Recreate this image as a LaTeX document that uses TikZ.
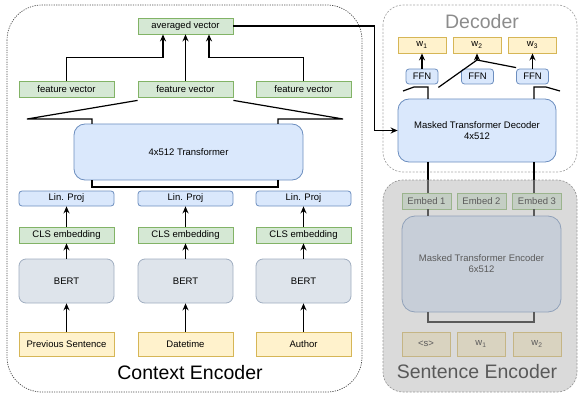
\documentclass[tikz,border=0pt]{standalone}
\usepackage{fontspec}
\setmainfont{Liberation Sans}
\usetikzlibrary{arrows.meta,calc}
\definecolor{gfill}{HTML}{D5E8D4}\definecolor{gline}{HTML}{82B366}
\definecolor{bfill}{HTML}{DAE8FC}\definecolor{bline}{HTML}{6C8EBF}
\definecolor{yfill}{HTML}{FFF2CC}\definecolor{yline}{HTML}{D6B656}
\definecolor{sfill}{HTML}{DEE4EB}\definecolor{sline}{HTML}{A0AEC0}
\definecolor{ovl}{RGB}{181,181,181}
\tikzset{
  box/.style={draw, line width=0.8pt, inner sep=0pt, align=center, font=\fontsize{9.5}{11}\selectfont},
  sz/.style 2 args={minimum width=#1pt, minimum height=#2pt},
  gbox/.style={box, fill=gfill, draw=gline},
  bbox/.style={box, fill=bfill, draw=bline, rounded corners=3pt},
  ybox/.style={box, fill=yfill, draw=yline},
  sbox/.style={box, fill=sfill, draw=sline, rounded corners=7pt},
  tbox/.style={box, fill=bfill, draw=bline, rounded corners=11pt},
  conn/.style={line width=1.2pt, black},
  arr/.style={conn, -{Stealth[length=7pt,width=6pt]}},
  title/.style={font=\fontsize{19.5}{22}\selectfont, inner sep=0pt}
}
\begin{document}
\begin{tikzpicture}[x=1pt,y=-1pt]
\useasboundingbox (0,0) rectangle (579,396);
% ---- frames
\draw[line width=0.7pt, draw=black!70, dash pattern=on 1.2pt off 1.2pt, rounded corners=35pt] (7,5) rectangle (362,392);
\draw[line width=0.7pt, draw=black!35, dash pattern=on 2pt off 1.5pt, rounded corners=20pt] (383,5) rectangle (577,172);
\node[title] (ctitle) at (190,373) {Context Encoder};
\node[title, text=black!45] (dtitle) at (482,22) {Decoder};

% ---- context encoder nodes
\node[gbox, sz={95}{16}] (avg) at (185.5,26) {averaged vector};
\foreach \i/\x in {1/66.5,2/185.5,3/303.5}{
  \node[gbox, sz={95}{16}] (fv\i) at (\x,89) {feature vector};
  \node[bbox, sz={95}{15}] (lp\i) at (\x,198.5) {Lin. Proj};
  \node[gbox, sz={95}{16}] (cls\i) at (\x,235) {CLS embedding};
  \node[sbox, sz={95}{44}] (bert\i) at (\x,281) {BERT};
}
\node[ybox, sz={95}{24}] (in1) at (66.5,344) {Previous Sentence};
\node[ybox, sz={95}{24}] (in2) at (185.5,344) {Datetime};
\node[ybox, sz={95}{24}] (in3) at (303.5,344) {Author};
\node[tbox, sz={229}{56}] (trans) at (188.5,152) {4x512 Transformer};

\foreach \i in {1,2,3}{
  \draw[arr] (in\i.north) -- (bert\i.south);
  \draw[arr] (bert\i.north) -- (cls\i.south);
  \draw[arr] (cls\i.north) -- (lp\i.south);
}
\draw[arr] (fv1.north) -- ++(0,-23) -| ([xshift=-22.5pt]avg.south);
\draw[arr] (fv2.north) -- (avg.south);
\draw[arr] (fv3.north) -- ++(0,-23) -| ([xshift=23.5pt]avg.south);
\coordinate (tl) at (27,119);
\coordinate (tr) at (343,119);
\draw[conn] ([yshift=-3pt]fv2.south west) -- (tl) -- (92,119) -- (92,124);
\draw[conn] ([yshift=-3pt]fv2.south east) -- (tr) -- (278,119) -- (278,124);
\draw[conn] (92,180) -- (92,187) -- (278,187) -- (278,180);

% ---- decoder
\node[gbox, sz={48}{16}, fill=yfill, draw=yline] (w1) at (422,45) {w\textsubscript{1}};
\node[gbox, sz={48}{16}, fill=yfill, draw=yline] (w2) at (477,45) {w\textsubscript{2}};
\node[gbox, sz={48}{16}, fill=yfill, draw=yline] (w3) at (532.5,45) {w\textsubscript{3}};
\node[bbox, sz={32}{15}] (ffn1) at (422,76.5) {FFN};
\node[bbox, sz={32}{15}] (ffn2) at (477.5,76.5) {FFN};
\node[bbox, sz={32}{15}] (ffn3) at (532.5,76.5) {FFN};
\node[tbox, sz={158}{63}] (dec) at (477,130.5) {Masked Transformer Decoder\\4x512};
\draw[arr] (ffn1.north) -- (w1.south);
\draw[arr] (ffn3.north) -- (w3.south);
\coordinate (apex) at (477,60);
\draw[conn] ([yshift=-3pt]ffn1.south east) -- (apex);
\draw[conn] ([yshift=1pt]ffn3.north west) -- (apex);
\draw[arr] (apex) -- (w2.south);
\draw[conn] (428,99) -- (428,87) -- (414,87) -- (403,91);
\draw[conn] (534,99) -- (534,87) -- (546,87) -- (560,91);
\draw[arr] (avg.east) -- ++(141,0) |- (dec.west);

% ---- sentence encoder
\node[gbox, sz={49}{16}] (e1) at (426.5,201) {Embed 1};
\node[gbox, sz={49}{16}] (e2) at (481.5,201) {Embed 2};
\node[gbox, sz={49}{16}] (e3) at (537,201) {Embed 3};
\node[tbox, sz={159}{96}, rounded corners=13pt] (enc) at (481.5,264) {Masked Transformer Encoder\\6x512};
\node[ybox, sz={48}{24}] (s0) at (426,344) {<s>};
\node[ybox, sz={48}{24}] (s1) at (481,344) {w\textsubscript{1}};
\node[ybox, sz={48}{24}] (s2) at (537,344) {w\textsubscript{2}};
\draw[conn] (dec.south -| 428,0) -- (e1.north -| 428,0);
\draw[conn] (dec.south -| 534,0) -- (e3.north -| 534,0);
\draw[conn] (e1.south -| 428,0) -- (enc.north -| 428,0);
\draw[conn] (e3.south -| 534,0) -- (enc.north -| 534,0);
\draw[conn] (enc.south -| 428,0) -- (428,322) -- (534,322) -- (enc.south -| 534,0);
\fill[ovl, fill opacity=0.5, rounded corners=20pt] (383,180) rectangle (577,392);
\draw[line width=0.7pt, draw=black!40, dash pattern=on 2pt off 1.5pt, rounded corners=20pt] (383,180) rectangle (577,392);
\node[title, text=black!65] (stitle) at (477,372) {Sentence Encoder};
\end{tikzpicture}
\end{document}
